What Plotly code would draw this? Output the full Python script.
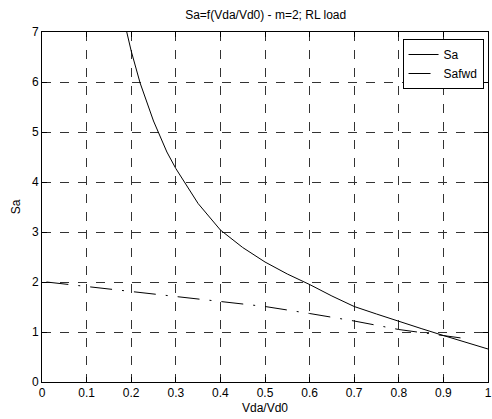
import plotly.graph_objects as go

sa_x = [0.19, 0.2, 0.22, 0.25, 0.28, 0.3, 0.35, 0.4, 0.45, 0.5, 0.55, 0.6, 0.65, 0.7, 0.75, 0.8, 0.85, 0.9, 0.95, 1.0]
sa_y = [7.0, 6.62, 5.98, 5.22, 4.6, 4.27, 3.57, 3.04, 2.69, 2.4, 2.16, 1.95, 1.72, 1.51, 1.36, 1.21, 1.07, 0.93, 0.8, 0.66]

fwd_x = [0.01, 0.1, 0.2, 0.3, 0.4, 0.5, 0.6, 0.7, 0.8, 0.85, 0.9, 0.94]
fwd_y = [2.0, 1.91, 1.81, 1.71, 1.61, 1.51, 1.37, 1.22, 1.05, 0.99, 0.93, 0.88]

x_ticks = [0, 0.1, 0.2, 0.3, 0.4, 0.5, 0.6, 0.7, 0.8, 0.9, 1]
x_labels = ["0", "0.1", "0.2", "0.3", "0.4", "0.5", "0.6", "0.7", "0.8", "0.9", "1"]
y_ticks = [0, 1, 2, 3, 4, 5, 6, 7]

FONT = "Liberation Sans, Arial"

fig = go.Figure()
fig.add_trace(go.Scatter(x=sa_x, y=sa_y, mode="lines", name="Sa",
                         line=dict(color="black", width=1)))
fig.add_trace(go.Scatter(x=fwd_x, y=fwd_y, mode="lines", name="Safwd",
                         line=dict(color="black", width=1, dash="22px,10px,2px,10px")))

axis_common = dict(showline=True, linecolor="black", linewidth=1, mirror="ticks",
                   ticks="inside", ticklen=5, tickcolor="black", automargin=False,
                   showgrid=True, gridcolor="#333333", griddash="dash", gridwidth=1,
                   zeroline=False, tickfont=dict(family=FONT, size=12, color="black"))

fig.update_xaxes(range=[0, 1], tickvals=x_ticks, ticktext=x_labels,
                 title=dict(text="Vda/Vd0", font=dict(family=FONT, size=12, color="black"), standoff=4),
                 **axis_common)
fig.update_yaxes(range=[0, 7], tickvals=y_ticks,
                 title=dict(text="Sa", font=dict(family=FONT, size=12, color="black"), standoff=8),
                 **axis_common)

fig.update_layout(
    width=492, height=419,
    margin=dict(l=42, r=4, t=32, b=37),
    paper_bgcolor="white", plot_bgcolor="white",
    title=dict(text="Sa=f(Vda/Vd0) - m=2; RL load", x=0.54, xanchor="center", y=0.965, yanchor="middle",
               font=dict(family=FONT, size=12, color="black")),
    legend=dict(x=0.99, y=0.98, xanchor="right", yanchor="top", bgcolor="white",
                bordercolor="black", borderwidth=1,
                font=dict(family=FONT, size=12, color="black")),
    showlegend=True,
)

fig.write_html("out.html", config={"displayModeBar": False},
               post_script="document.body.style.margin='0';document.body.style.overflow='hidden';")
